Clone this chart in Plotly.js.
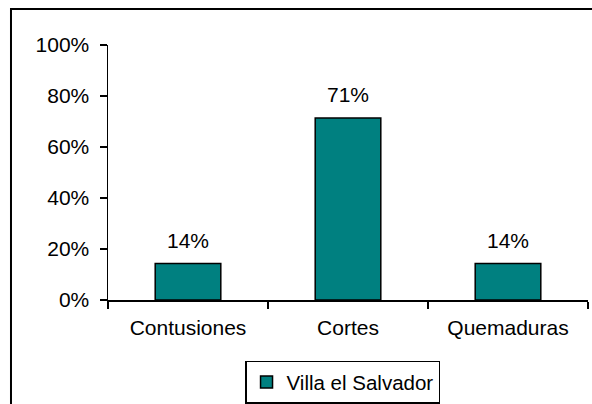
<!DOCTYPE html>
<html>
<head>
<meta charset="utf-8">
<script src="https://cdn.plot.ly/plotly-3.0.1.min.js"></script>
<style>
  html, body { margin: 0; padding: 0; background: #fff; }
  #chart { width: 592px; height: 404px; }
</style>
</head>
<body>
<div id="chart"></div>
<script>
const categories = ["Contusiones", "Cortes", "Quemaduras"];
const values = [0.143, 0.714, 0.143];
const labels = ["14%", "71%", "14%"];
const seriesName = "Villa el Salvador";
const yTickVals = [0, 0.2, 0.4, 0.6, 0.8, 1.0];
const yTickText = ["0%", "20%", "40%", "60%", "80%", "100%"];

const FONT = "Arial, 'Liberation Sans', sans-serif";
const FS = 21;

const trace = {
  type: "bar",
  x: categories,
  y: values,
  name: seriesName,
  width: 0.41,
  marker: { color: "#008080", line: { color: "#000000", width: 1.5 } },
  hoverinfo: "none",
  showlegend: true
};

const annotations = categories.map((c, i) => ({
  x: c, y: values[i], xref: "x", yref: "y",
  text: labels[i], showarrow: false,
  yanchor: "bottom", yshift: 10,
  font: { family: FONT, size: FS, color: "#000" }
}));

const layout = {
  width: 592, height: 404,
  margin: { l: 108, r: 4, t: 45, b: 104, autoexpand: false },
  paper_bgcolor: "#fff", plot_bgcolor: "#fff",
  font: { family: FONT, size: FS, color: "#000" },
  showlegend: true,
  legend: {
    x: 0.2855, y: -0.238, xanchor: "left", yanchor: "top",
    bordercolor: "#000", borderwidth: 1.5, bgcolor: "#fff",
    font: { family: FONT, size: 20.5, color: "#000" }
  },
  xaxis: {
    type: "category",
    showline: true, linecolor: "#000", linewidth: 1.5,
    ticks: "outside", tickson: "boundaries", ticklen: 7, tickcolor: "#000", tickwidth: 1.5,
    ticklabelstandoff: 8,
    showgrid: false, zeroline: false,
    tickfont: { family: FONT, size: FS, color: "#000" }
  },
  yaxis: {
    range: [0, 1],
    tickvals: yTickVals, ticktext: yTickText,
    showline: true, linecolor: "#000", linewidth: 1.5,
    ticks: "outside", ticklen: 7, tickcolor: "#000", tickwidth: 1.5,
    ticklabelstandoff: 6,
    showgrid: false, zeroline: false,
    tickfont: { family: FONT, size: FS, color: "#000" }
  },
  annotations: annotations,
  shapes: [{
    type: "rect", xref: "paper", yref: "paper",
    x0: -0.2021, x1: 1.08, y0: 1.1412, y1: -0.48,
    line: { color: "#000", width: 2 }, fillcolor: "rgba(0,0,0,0)"
  }]
};

Plotly.newPlot("chart", [trace], layout, { displayModeBar: false, staticPlot: true });
</script>
</body>
</html>
